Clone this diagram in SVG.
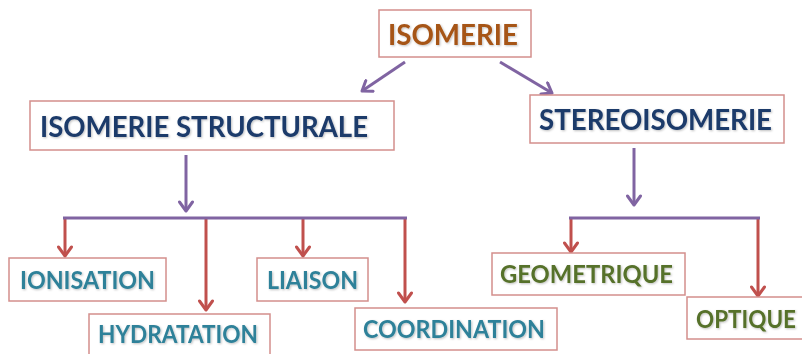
<svg xmlns="http://www.w3.org/2000/svg" width="802" height="354" viewBox="0 0 802 354">
<style>
.box{fill:#fff;stroke:#D38F8C;stroke-width:1.5}
.t{font-family:Lato,"Liberation Sans",sans-serif;font-weight:bold;filter:url(#sh)}
.big{font-size:28px}
.sm{font-size:24px}
.brown{fill:#A65418}
.navy{fill:#1B3A6B}
.teal{fill:#2F8199}
.green{fill:#56712A}
.p{stroke:#8064A2;stroke-width:3;fill:none}
.r{stroke:#C0504D;stroke-width:3;fill:none}
</style>
<defs>
<filter id="sh" x="-5%" y="-20%" width="110%" height="140%">
<feDropShadow dx="1" dy="1" stdDeviation="0.8" flood-color="#000" flood-opacity="0.25"/>
</filter>
<marker id="ap" viewBox="0 0 14 16" refX="11" refY="8" markerWidth="14" markerHeight="16" markerUnits="userSpaceOnUse" orient="auto">
<polyline points="2,1.5 11,8 2,14.5" fill="none" stroke="#8064A2" stroke-width="3" stroke-linecap="round" stroke-linejoin="round"/>
</marker>
<marker id="ar" viewBox="0 0 14 16" refX="11" refY="8" markerWidth="14" markerHeight="16" markerUnits="userSpaceOnUse" orient="auto">
<polyline points="2,1.5 11,8 2,14.5" fill="none" stroke="#C0504D" stroke-width="3" stroke-linecap="round" stroke-linejoin="round"/>
</marker>
</defs>
<g id="connectors">
<line class="p" x1="405" y1="62" x2="362" y2="91" marker-end="url(#ap)"/>
<line class="p" x1="500" y1="62" x2="552" y2="93" marker-end="url(#ap)"/>
<line class="p" x1="186" y1="155" x2="186" y2="211" marker-end="url(#ap)"/>
<line class="p" x1="634" y1="148" x2="634" y2="205" marker-end="url(#ap)"/>
<line class="r" x1="65" y1="218" x2="65" y2="256" marker-end="url(#ar)"/>
<line class="r" x1="206" y1="218" x2="206" y2="310" marker-end="url(#ar)"/>
<line class="r" x1="303" y1="218" x2="303" y2="256" marker-end="url(#ar)"/>
<line class="r" x1="405" y1="218" x2="405" y2="302" marker-end="url(#ar)"/>
<line class="r" x1="571" y1="218" x2="571" y2="252" marker-end="url(#ar)"/>
<line class="r" x1="758" y1="218" x2="758" y2="296" marker-end="url(#ar)"/>
<line class="p" x1="63" y1="218" x2="407" y2="218"/>
<line class="p" x1="569" y1="218" x2="760" y2="218"/>
</g>
<g id="isomerie">
<rect class="box" x="379" y="10" width="152" height="47"/>
<text class="t big brown" x="388" y="45" textLength="130" lengthAdjust="spacingAndGlyphs">ISOMERIE</text>
</g>
<g id="structurale">
<rect class="box" x="30" y="101" width="364" height="49"/>
<text class="t big navy" x="40" y="137" textLength="328" lengthAdjust="spacingAndGlyphs">ISOMERIE STRUCTURALE</text>
</g>
<g id="stereo">
<rect class="box" x="530" y="95" width="254" height="48"/>
<text class="t big navy" x="539" y="130" textLength="233" lengthAdjust="spacingAndGlyphs">STEREOISOMERIE</text>
</g>
<g id="ionisation">
<rect class="box" x="9" y="258" width="157" height="43"/>
<text class="t sm teal" x="20" y="289" textLength="135" lengthAdjust="spacingAndGlyphs">IONISATION</text>
</g>
<g id="liaison">
<rect class="box" x="257" y="258" width="111" height="43"/>
<text class="t sm teal" x="267" y="289" textLength="91" lengthAdjust="spacingAndGlyphs">LIAISON</text>
</g>
<g id="hydratation">
<rect class="box" x="89" y="314" width="181" height="50"/>
<text class="t sm teal" x="98" y="343" textLength="160" lengthAdjust="spacingAndGlyphs">HYDRATATION</text>
</g>
<g id="coordination">
<rect class="box" x="355" y="308" width="202" height="42"/>
<text class="t sm teal" x="363" y="338" textLength="182" lengthAdjust="spacingAndGlyphs">COORDINATION</text>
</g>
<g id="geometrique">
<rect class="box" x="492" y="253" width="193" height="42"/>
<text class="t sm green" x="500" y="283" textLength="173" lengthAdjust="spacingAndGlyphs">GEOMETRIQUE</text>
</g>
<g id="optique">
<rect class="box" x="687" y="297" width="125" height="42"/>
<text class="t sm green" x="696" y="328" textLength="100" lengthAdjust="spacingAndGlyphs">OPTIQUE</text>
</g>
</svg>
